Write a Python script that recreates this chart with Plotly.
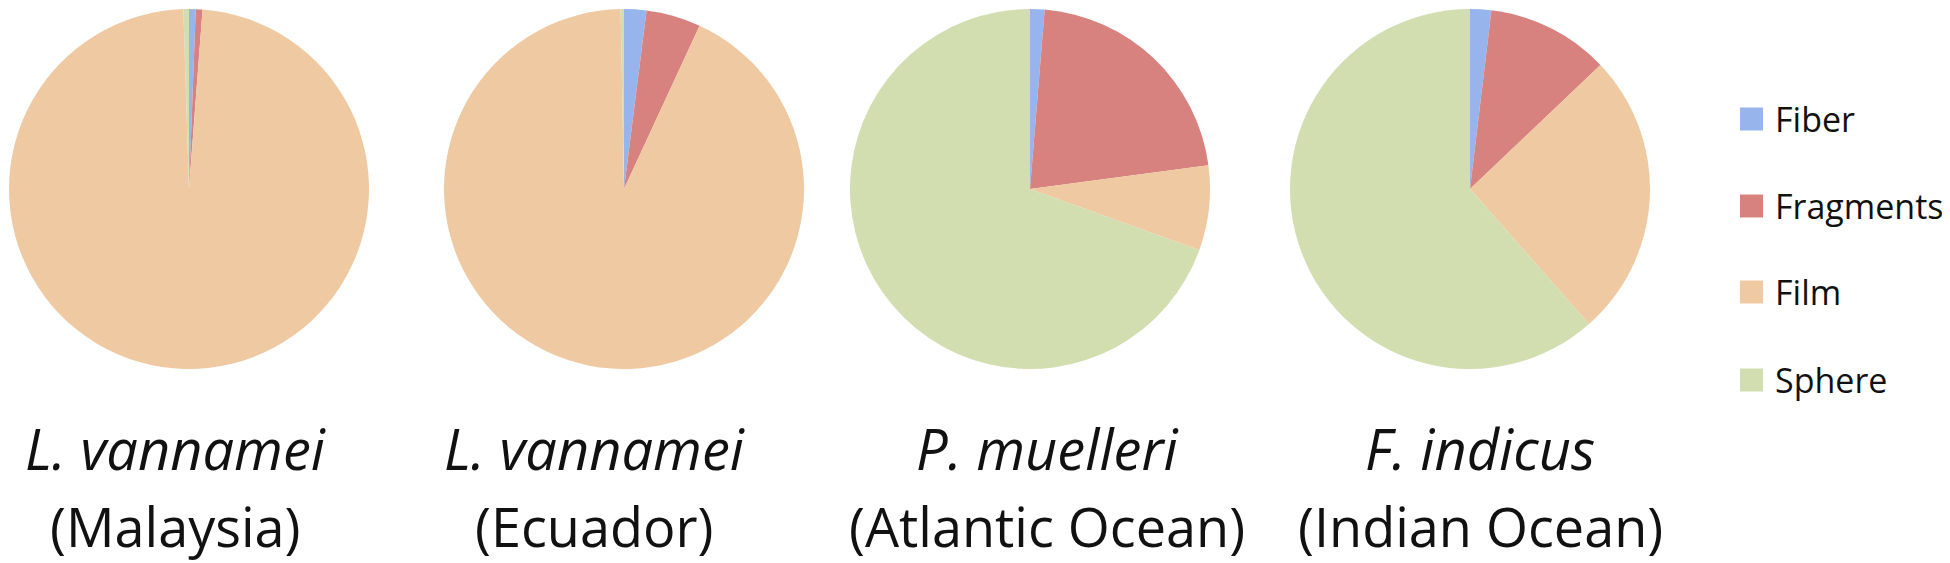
import plotly.graph_objects as go

categories = ["Fiber", "Fragments", "Film", "Sphere"]
colors = ["#97b5ec", "#d8827f", "#efc9a1", "#d2ddb0"]

species = ["L. vannamei", "L. vannamei", "P. muelleri", "F. indicus"]
regions = ["(Malaysia)", "(Ecuador)", "(Atlantic Ocean)", "(Indian Ocean)"]

malaysia = [0.6, 0.6, 98.3, 0.5]
ecuador = [2.0, 4.9, 92.8, 0.3]
atlantic = [1.3, 21.6, 7.6, 69.5]
indian = [1.9, 11.0, 25.6, 61.5]
series = [malaysia, ecuador, atlantic, indian]

W, H = 1950, 563
OFF = 8  # page body margin compensation
centers_x = [189, 624, 1030, 1470]
label_x = [175, 594, 1047, 1480]
cy, r = 189, 180


def px(x):
    return (x - OFF) / W


def py(y):
    return (H - (y - OFF)) / H


fig = go.Figure()
for i, vals in enumerate(series):
    cx = centers_x[i]
    fig.add_trace(go.Pie(
        labels=categories, values=vals, sort=False, direction="clockwise",
        rotation=0, textinfo="none", showlegend=False,
        marker=dict(colors=colors, line=dict(width=0)),
        domain=dict(x=[px(cx - r), px(cx + r)],
                    y=[py(cy + r), py(cy - r)]),
    ))

annotations = []
for i in range(4):
    annotations.append(dict(x=px(label_x[i]), y=py(448), xref="paper", yref="paper",
                            text="<i>" + species[i] + "</i>", showarrow=False,
                            xanchor="center", yanchor="middle",
                            font=dict(family="Open Sans", size=56, color="#111")))
    annotations.append(dict(x=px(label_x[i]), y=py(526), xref="paper", yref="paper",
                            text=regions[i], showarrow=False,
                            xanchor="center", yanchor="middle",
                            font=dict(family="Open Sans", size=54, color="#111")))

legend_y = [119, 206, 292, 380]
shapes = []
for k, cat in enumerate(categories):
    yc = legend_y[k]
    shapes.append(dict(type="rect", xref="paper", yref="paper",
                       x0=px(1740), x1=px(1763),
                       y0=py(yc + 11.5), y1=py(yc - 11.5),
                       fillcolor=colors[k], line=dict(width=0)))
    annotations.append(dict(x=px(1773), y=py(yc), xref="paper", yref="paper",
                            text=cat, showarrow=False, xanchor="left", yanchor="middle",
                            font=dict(family="Open Sans", size=34, color="#111")))

fig.update_layout(width=W, height=H, margin=dict(l=0, r=0, t=0, b=0),
                  paper_bgcolor="white", plot_bgcolor="white",
                  annotations=annotations, shapes=shapes)
fig.write_html("out.html")
